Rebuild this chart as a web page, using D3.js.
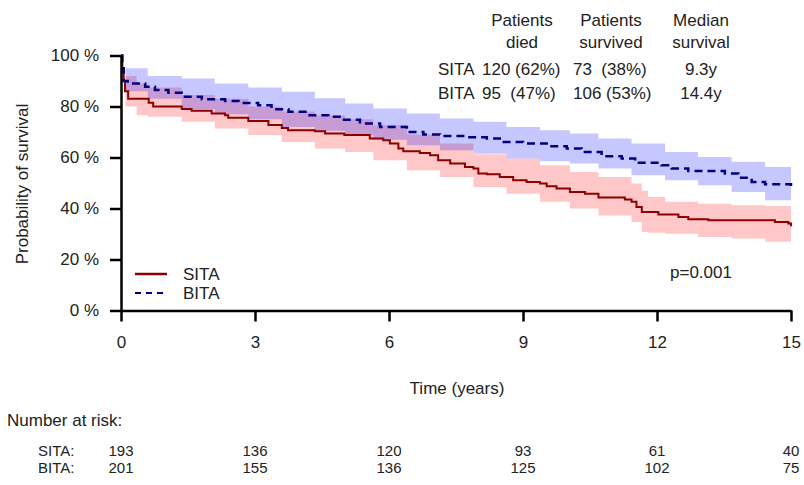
<!DOCTYPE html>
<html>
<head>
<meta charset="utf-8">
<script src="https://cdn.jsdelivr.net/npm/d3@7"></script>
<style>
  body { margin: 0; background: #fff; }
  svg text { font-family: "Liberation Sans", Arial, sans-serif; font-size: 17px; fill: #222; white-space: pre; }
  svg text.risk { font-size: 15px; }
</style>
</head>
<body>
<div id="chart"></div>
<script>
const WIDTH = 804
const HEIGHT = 485

const groups = ["SITA", "BITA"]
const years = [0, 3, 6, 9, 12, 15]
const sitaRisk = [193, 136, 120, 93, 61, 40]
const bitaRisk = [201, 155, 136, 125, 102, 75]
const yTicks = [0, 0.2, 0.4, 0.6, 0.8, 1]

const diedText = ["120 (62%)", "95  (47%)"]
const survivedText = ["73  (38%)", "106 (53%)"]
const medianText = ["9.3y", "14.4y"]

const sitaTime = [0, 0.03, 0.06, 0.09, 0.16, 0.62, 0.72, 1.36, 1.58, 2.03, 2.33, 2.4, 2.85, 3.3, 3.6, 3.74, 4.34, 4.57, 5.0, 5.57, 5.87, 6.02, 6.21, 6.32, 6.69, 6.92, 7.1, 7.37, 7.7, 7.89, 8.0, 8.19, 8.48, 8.78, 9.08, 9.38, 9.53, 9.75, 10.05, 10.39, 10.69, 11.28, 11.43, 11.54, 11.66, 12.03, 12.48, 12.7, 13.15, 14.64, 14.94, 15]
const sitaSurv = [1.0, 0.95, 0.9, 0.86, 0.83, 0.815, 0.80, 0.79, 0.783, 0.773, 0.766, 0.756, 0.743, 0.727, 0.716, 0.707, 0.703, 0.694, 0.688, 0.675, 0.668, 0.655, 0.635, 0.625, 0.618, 0.609, 0.589, 0.576, 0.563, 0.557, 0.537, 0.534, 0.524, 0.511, 0.504, 0.498, 0.487, 0.478, 0.465, 0.458, 0.443, 0.435, 0.426, 0.406, 0.386, 0.376, 0.367, 0.358, 0.354, 0.347, 0.341, 0.33]

const bitaTime = [0, 0.03, 0.06, 0.15, 0.54, 0.76, 1.06, 1.36, 1.81, 2.33, 2.63, 3.07, 3.37, 3.75, 4.19, 4.64, 4.94, 5.35, 5.8, 6.4, 6.77, 7.14, 7.74, 8.19, 8.48, 9.0, 9.53, 9.98, 10.31, 10.76, 11.21, 11.51, 12.1, 12.33, 12.7, 13.52, 13.82, 14.12, 14.42, 15]
const bitaSurv = [1.0, 0.95, 0.9, 0.89, 0.877, 0.865, 0.854, 0.838, 0.828, 0.822, 0.814, 0.805, 0.789, 0.779, 0.766, 0.76, 0.748, 0.733, 0.72, 0.70, 0.69, 0.684, 0.679, 0.675, 0.661, 0.655, 0.644, 0.635, 0.622, 0.605, 0.596, 0.579, 0.57, 0.557, 0.547, 0.537, 0.521, 0.504, 0.495, 0.488]

const sitaBandTime = [0, 0.1, 0.35, 0.6, 1.36, 2.1, 2.85, 3.6, 4.34, 5.02, 5.65, 6.4, 7.14, 7.89, 8.63, 9.38, 10.05, 10.69, 11.43, 11.66, 11.8, 12.18, 12.92, 13.67, 14.42, 15]
const sitaUpper = [1.0, 0.92, 0.89, 0.875, 0.845, 0.83, 0.80, 0.78, 0.765, 0.75, 0.727, 0.69, 0.655, 0.613, 0.596, 0.57, 0.543, 0.524, 0.498, 0.47, 0.445, 0.426, 0.419, 0.413, 0.41, 0.406]
const sitaLower = [1.0, 0.80, 0.766, 0.76, 0.74, 0.714, 0.688, 0.661, 0.635, 0.622, 0.589, 0.55, 0.524, 0.484, 0.458, 0.426, 0.40, 0.373, 0.347, 0.308, 0.305, 0.301, 0.288, 0.282, 0.27, 0.262]

const bitaBandTime = [0, 0.1, 0.6, 1.36, 2.1, 2.85, 3.6, 4.34, 5.02, 5.65, 6.4, 7.14, 7.89, 8.63, 9.38, 10.05, 10.69, 11.43, 12.18, 12.92, 13.67, 14.42, 15]
const bitaUpper = [1.0, 0.95, 0.92, 0.91, 0.89, 0.875, 0.858, 0.832, 0.812, 0.792, 0.773, 0.753, 0.74, 0.72, 0.707, 0.694, 0.675, 0.655, 0.622, 0.602, 0.583, 0.563, 0.563]
const bitaLower = [1.0, 0.86, 0.83, 0.79, 0.77, 0.75, 0.72, 0.705, 0.688, 0.67, 0.648, 0.628, 0.615, 0.596, 0.585, 0.576, 0.557, 0.53, 0.511, 0.491, 0.465, 0.432, 0.419]


const x = d3.scaleLinear().domain([0, 15]).range([121, 791])
const y = d3.scaleLinear().domain([0, 1]).range([310.5, 55.5])

const svg = d3.select("#chart").append("svg")
    .attr("width", WIDTH)
    .attr("height", HEIGHT)

const zip = (ts, vs) => ts.map((t, i) => [t, vs[i]])
const zipBand = (ts, lo, hi) => ts.map((t, i) => ({t: t, lo: lo[i], hi: hi[i]}))

const band = d3.area()
    .curve(d3.curveStepAfter)
    .x(d => x(d.t))
    .y0(d => y(d.lo))
    .y1(d => y(d.hi))

const line = d3.line()
    .curve(d3.curveStepAfter)
    .x(d => x(d[0]))
    .y(d => y(d[1]))

svg.append("path")
    .attr("d", band(zipBand(sitaBandTime, sitaLower, sitaUpper)))
    .attr("fill", "rgba(255,0,0,0.22)")

svg.append("path")
    .attr("d", band(zipBand(bitaBandTime, bitaLower, bitaUpper)))
    .attr("fill", "rgba(0,0,255,0.22)")

svg.append("path")
    .attr("d", line(zip(sitaTime, sitaSurv)))
    .attr("fill", "none")
    .attr("stroke", "#8b0000")
    .attr("stroke-width", 2)

svg.append("path")
    .attr("d", line(zip(bitaTime, bitaSurv)))
    .attr("fill", "none")
    .attr("stroke", "#000080")
    .attr("stroke-width", 2.5)
    .attr("stroke-dasharray", "8,5")

// axes
svg.append("g")
    .attr("transform", `translate(${x(0)},0)`)
    .call(d3.axisLeft(y).tickValues(yTicks).tickSize(11).tickSizeOuter(0).tickPadding(11)
        .tickFormat(d => Math.round(d * 100) + " %"))

svg.append("g")
    .attr("transform", `translate(0,${y(0)})`)
    .call(d3.axisBottom(x).tickValues(years).tickSize(11).tickSizeOuter(0).tickPadding(14)
        .tickFormat(d3.format("d")))

svg.selectAll(".domain, .tick line")
    .attr("stroke", "#000")
    .attr("stroke-width", 2.5)
svg.selectAll(".tick text")
    .attr("font-size", null)
    .attr("font-family", null)
    .attr("fill", "#222")

svg.append("text")
    .attr("transform", "translate(28,184) rotate(-90)")
    .attr("text-anchor", "middle")
    .text("Probability of survival")

svg.append("text")
    .attr("x", 457)
    .attr("y", 394)
    .attr("text-anchor", "middle")
    .text("Time (years)")

// legend
const legend = svg.append("g")
    .selectAll("g")
    .data(groups)
    .join("g")
    .attr("transform", (d, i) => `translate(135,${274 + i * 19})`)

legend.append("line")
    .attr("x1", 0).attr("x2", 32)
    .attr("stroke", (d, i) => i === 0 ? "#8b0000" : "#000080")
    .attr("stroke-width", (d, i) => i === 0 ? 2.5 : 2)
    .attr("stroke-dasharray", (d, i) => i === 0 ? null : "6,5")

legend.append("text")
    .attr("x", 48)
    .attr("y", 6)
    .text(d => d)

svg.append("text")
    .attr("x", 670)
    .attr("y", 278)
    .text("p=0.001")

// summary table
const headers = [["Patients", "died"], ["Patients", "survived"], ["Median", "survival"]]
const headerX = [522, 611, 701]
headers.forEach((h, j) => {
    h.forEach((s, k) => {
        svg.append("text")
            .attr("x", headerX[j])
            .attr("y", 26 + k * 22)
            .attr("text-anchor", "middle")
            .text(s)
    })
})

const rows = svg.append("g")
    .selectAll("g")
    .data(groups)
    .join("g")
    .attr("transform", (d, i) => `translate(0,${75 + i * 24})`)

rows.append("text").attr("x", 438).text(d => d)
rows.append("text").attr("x", 482).text((d, i) => diedText[i])
rows.append("text").attr("x", 573).text((d, i) => survivedText[i])
rows.append("text").attr("x", 701).attr("text-anchor", "middle").text((d, i) => medianText[i])

// number at risk
svg.append("text")
    .attr("x", 7)
    .attr("y", 426)
    .text("Number at risk:")

const riskRows = [sitaRisk, bitaRisk]
riskRows.forEach((r, i) => {
    const g = svg.append("g").attr("transform", `translate(0,${456 + i * 17})`)
    g.append("text").attr("class", "risk").attr("x", 38).text(groups[i] + ":")
    g.selectAll(".num")
        .data(r)
        .join("text")
        .attr("class", "risk num")
        .attr("x", (d, j) => x(years[j]))
        .attr("text-anchor", "middle")
        .text(d => d)
})
</script>
</body>
</html>
